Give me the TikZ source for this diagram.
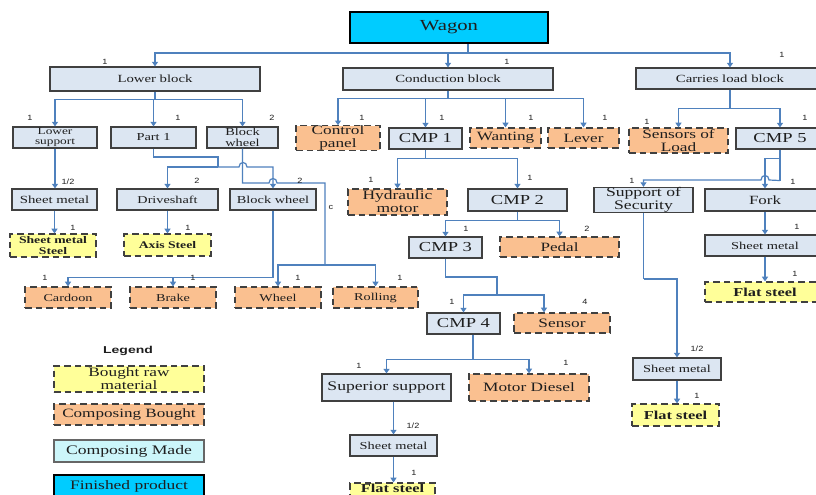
\documentclass[tikz,border=0pt]{standalone}
\usepackage{fontspec}
\setmainfont{Liberation Serif}
\newfontfamily\bxf[FakeStretch=1.35]{Liberation Serif}
\newfontfamily\lbf[FakeStretch=1.2]{Liberation Sans}
\newfontfamily\lgf[FakeStretch=1.4]{Liberation Sans}
\usetikzlibrary{arrows.meta,calc}

\definecolor{paleblue}{RGB}{220,230,242}
\definecolor{bord}{RGB}{64,64,64}
\definecolor{orng}{RGB}{250,192,144}
\definecolor{yel}{RGB}{255,255,153}
\definecolor{cyanf}{RGB}{0,204,255}
\definecolor{lcyan}{RGB}{204,246,250}
\definecolor{lineblue}{RGB}{79,129,189}
\definecolor{txt}{RGB}{30,30,30}

\newcommand\fsz[1]{\fontsize{#1}{#1}\selectfont}
\newcommand\bx[8]{\node[#6, font={\bxf\fsz{#7}}, minimum width={(#4-#2)*0.75pt}, minimum height={(#5-#3)*0.75pt}] (#1) at ({(#2+#4)/2},{(#3+#5)/2}) {#8};}

\tikzset{
  made/.style={draw=bord, fill=paleblue, line width=0.8pt, inner sep=0pt, align=center, text=txt},
  bought/.style={draw=bord, fill=orng, line width=0.9pt, dash pattern=on 5pt off 3pt, inner sep=0pt, align=center, text=txt},
  raw/.style={bought, fill=yel},
  fin/.style={draw=black, fill=cyanf, line width=2.2pt, inner sep=0pt, align=center, text=txt},
  legmade/.style={draw=bord!80, fill=lcyan, line width=0.9pt, inner sep=0pt, align=center, text=txt},
  wire/.style={draw=lineblue, line width=0.9pt},
  arr/.style={wire, -{Triangle[width=4.5pt,length=3.5pt]}},
  lab/.style={font={\lbf\fsz{5.7}}, inner sep=0pt, text=txt},
}

\begin{document}
\begin{tikzpicture}[x=0.75pt, y=-0.75pt]
\useasboundingbox (0,0) rectangle (816,495);
\fill[white] (0,0) rectangle (816,495);
\clip (0,0) rectangle (816,495);

% ---------- boxes ----------
\bx{wagon}{350}{12}{548}{43}{fin}{11.5}{Wagon}
\bx{lower}{50}{67}{260}{91}{made}{8.2}{Lower block}
\bx{cond}{343}{68}{553}{90}{made}{8.2}{Conduction block}
\bx{carries}{636}{68}{824}{89}{made}{8.2}{Carries load block}

\bx{lsup}{13}{127}{97}{148}{made}{7.4}{Lower\\support}
\bx{part1}{111}{127}{196}{148}{made}{8}{Part 1}
\bx{bw}{207}{127}{278}{148}{made}{8}{Block\\wheel}
\bx{ctrl}{296}{128}{380}{148}{bought}{9.6}{Control\\panel}
\bx{cmp1}{389}{128}{462}{149}{made}{10.3}{CMP 1}
\bx{want}{470}{128}{541}{148}{bought}{9.5}{Wanting}
\bx{lever}{548}{128}{619}{148}{bought}{9.5}{Lever}
\bx{sens}{629}{128}{728}{153}{bought}{9.6}{Sensors of\\Load}
\bx{cmp5}{736}{128}{824}{149}{made}{10.3}{CMP 5}

\bx{sm1}{12}{189}{97}{210}{made}{8.2}{Sheet metal}
\bx{drive}{117}{189}{218}{210}{made}{7.9}{Driveshaft}
\bx{bw2}{230}{189}{316}{210}{made}{8}{Block wheel}
\bx{sms}{10}{234}{96}{257}{raw}{7.6}{\textbf{Sheet metal}\\\textbf{Steel}}
\bx{axis}{124}{234}{211}{256}{raw}{7.6}{\textbf{Axis Steel}}
\bx{hyd}{348}{189}{447}{215}{bought}{9.7}{Hydraulic\\motor}
\bx{cmp2}{468}{189}{567}{211}{made}{10.3}{CMP 2}
\bx{sos}{594}{189}{693}{211}{made}{9.8}{Support of\\Security}
\bx{fork}{705}{189}{825}{211}{made}{9.4}{Fork}
\bx{sm4}{705}{235}{825}{256}{made}{8}{Sheet metal}
\bx{flat4}{705}{282}{825}{302}{raw}{9.1}{\textbf{Flat steel}}

\bx{cmp3}{409}{237}{482}{258}{made}{10.3}{CMP 3}
\bx{pedal}{500}{237}{619}{257}{bought}{9.5}{Pedal}
\bx{cardoon}{25}{287}{111}{308}{bought}{7.9}{Cardoon}
\bx{brake}{130}{287}{216}{308}{bought}{7.9}{Brake}
\bx{wheel}{235}{287}{321}{308}{bought}{7.9}{Wheel}
\bx{rolling}{333}{287}{418}{308}{bought}{7.9}{Rolling}
\bx{cmp4}{427}{313}{500}{334}{made}{10.3}{CMP 4}
\bx{sensor}{514}{313}{610}{333}{bought}{9.6}{Sensor}
\bx{sup}{322}{374}{451}{401}{made}{9.8}{Superior support}
\bx{diesel}{469}{374}{589}{401}{bought}{9.6}{Motor Diesel}
\bx{sm3}{350}{435}{437}{456}{made}{8}{Sheet metal}
\bx{flat3}{350}{483}{435}{505}{raw, text depth=9pt}{9.1}{\textbf{Flat steel}}
\bx{sm5}{633}{358}{721}{380}{made}{8}{Sheet metal}
\bx{flat5}{632}{404}{719}{426}{raw}{9.1}{\textbf{Flat steel}}

% legend
\node[font={\lgf\bfseries\fsz{7.5}}, text=txt, inner sep=0pt] (legt) at (128,351) {Legend};
\bx{leg1}{54}{366}{204}{392}{raw}{9.6}{Bought raw\\material}
\bx{leg2}{54}{404}{204}{425}{bought}{9.5}{Composing Bought}
\bx{leg3}{54}{440}{204}{462}{legmade}{9.8}{Composing Made}
\bx{leg4}{54}{475}{204}{497}{fin}{9.7}{Finished product}

% ---------- connectors ----------
\coordinate (jw) at (468,53);
\draw[wire] (wagon.south -| jw) -- (jw);
\draw[arr] (jw) -| (lower.north);
\draw[arr] (jw) -| (cond.north);
\draw[arr] (jw) -| (carries.north);

\draw[wire] (lower.south) -- ++(0,8) coordinate (jl);
\draw[arr] (jl) -| (lsup.north);
\draw[arr] (jl) -| (part1.north);
\draw[arr] (jl) -| (bw.north);

\draw[wire] (cond.south) -- ++(0,8) coordinate (jc);
\draw[arr] (jc) -| (ctrl.north);
\draw[arr] (jc) -| (cmp1.north);
\draw[arr] (jc) -| (want.north);
\draw[arr] (jc) -| (lever.north);

\draw[wire] (carries.south) -- ++(0,19) coordinate (jcl);
\draw[arr] (jcl) -| (sens.north);
\draw[arr] (jcl) -| (cmp5.north);

\draw[arr] (lsup.south) -- (lsup.south |- sm1.north);
\draw[arr] (sm1.south) -- (sm1.south |- sms.north);

\coordinate (p1a) at (218,157);
\coordinate (jp) at (218,167);
\draw[wire] (part1.south) |- (p1a) -- (jp);
\draw[arr] (jp) -| (drive.north);
\draw[arr] (jp) -- (239,167) .. controls (239,161) and (247,161) .. (247,167) -| (bw2.north);

\coordinate (bwa) at (325,183);
\coordinate (bwb) at (325,265);
\draw[wire] (bw.south) |- (269,183) .. controls (269,177) and (277,177) .. (277,183) -- (bwa) -- (bwb);
\draw[arr] (bwb) -| (wheel.north);
\draw[arr] (bwb) -| (rolling.north);

\draw[wire] (bw2.south) -- ++(0,67) coordinate (jb2);
\draw[arr] (jb2) -| (cardoon.north);
\draw[arr] (jb2) -| (brake.north);

\draw[arr] (drive.south) -- (drive.south |- axis.north);

\draw[wire] (cmp1.south) -- ++(0,9) coordinate (jc1);
\draw[arr] (jc1) -| (hyd.north);
\draw[arr] (jc1) -| (cmp2.north);

\draw[wire] (cmp2.south) -- ++(0,9) coordinate (jc2);
\draw[arr] (jc2) -| (cmp3.north);
\draw[arr] (jc2) -| (pedal.north);

\coordinate (c3a) at (497,277);
\coordinate (jc3) at (497,295);
\draw[wire] (cmp3.south) |- (c3a) -- (jc3);
\draw[arr] (jc3) -| (cmp4.north);
\draw[arr] (jc3) -| ($(sensor.north)+(-18,0)$);

\draw[wire] ($(cmp4.south)+(9.5,0)$) -- ++(0,25) coordinate (jc4);
\draw[arr] (jc4) -| (sup.north);
\draw[arr] (jc4) -| (diesel.north);

\draw[arr] (sup.south -| sm3.north) -- (sm3.north);
\draw[arr] (sm3.south) -- (sm3.south |- flat3.north);

\draw[wire] (cmp5.south) -- ++(0,9) coordinate (k1) -- ++(0,22) coordinate (k2);
\draw[arr] (k1) -| (fork.north);
\draw[arr] (k2) -- (769,180) .. controls (769,174) and (761,174) .. (761,180) -| (sos.north);

\draw[arr] (fork.south) -- (fork.south |- sm4.north);
\draw[arr] (sm4.south) -- (sm4.south |- flat4.north);

\draw[wire] (sos.south) -- ++(0,66) coordinate (s1);
\draw[arr] (s1) -| (sm5.north);
\draw[arr] (sm5.south) -- (sm5.south |- flat5.north);

% ---------- quantity labels ----------
\node[lab] (q1) at (105,62) {1};
\node[lab] (q2) at (507,62) {1};
\node[lab] (q3) at (782,55) {1};
\node[lab] (q4) at (30,118) {1};
\node[lab] (q5) at (178,118) {1};
\node[lab] (q6) at (272,118) {2};
\node[lab] (q7) at (362,118) {1};
\node[lab] (q8) at (442,118) {1};
\node[lab] (q9) at (531,118) {1};
\node[lab] (q10) at (605,118) {1};
\node[lab] (q11) at (647,122) {1};
\node[lab] (q12) at (805,118) {1};
\node[lab] (q13) at (68,182) {1/2};
\node[lab] (q14) at (73,228) {1};
\node[lab] (q15) at (197,181) {2};
\node[lab] (q16) at (300,181) {2};
\node[lab] (q17) at (188,228) {1};
\node[lab] (q18) at (331,207) {c};
\node[lab] (q19) at (45,278) {1};
\node[lab] (q20) at (193,278) {1};
\node[lab] (q21) at (298,278) {1};
\node[lab] (q22) at (400,278) {1};
\node[lab] (q23) at (371,180) {1};
\node[lab] (q24) at (530,178) {1};
\node[lab] (q25) at (466,229) {1};
\node[lab] (q26) at (587,229) {2};
\node[lab] (q27) at (452,302) {1};
\node[lab] (q28) at (585,302) {4};
\node[lab] (q29) at (632,181) {1};
\node[lab] (q30) at (793,182) {1};
\node[lab] (q31) at (797,227) {1};
\node[lab] (q32) at (795,274) {1};
\node[lab] (q33) at (359,366) {1};
\node[lab] (q34) at (566,363) {1};
\node[lab] (q35) at (413,426) {1/2};
\node[lab] (q36) at (414,473) {1};
\node[lab] (q37) at (697,349) {1/2};
\node[lab] (q38) at (697,396) {1};
\end{tikzpicture}
\end{document}
